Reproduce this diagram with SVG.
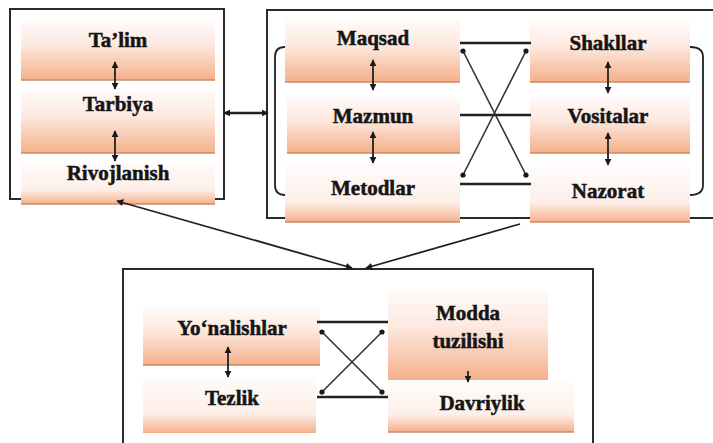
<svg xmlns="http://www.w3.org/2000/svg" width="713" height="443" viewBox="0 0 713 443">
<defs>
<linearGradient id="gA" x1="0" y1="0" x2="0" y2="1">
<stop offset="0" stop-color="#fffafa"/>
<stop offset="0.4" stop-color="#fde9e0"/>
<stop offset="1" stop-color="#f5b08a"/>
</linearGradient>
<linearGradient id="gB" x1="0" y1="0" x2="0" y2="1">
<stop offset="0" stop-color="#fffbfa"/>
<stop offset="0.65" stop-color="#fdefe8"/>
<stop offset="1" stop-color="#f5b08a"/>
</linearGradient>
<marker id="ah" viewBox="0 0 10 10" refX="9" refY="5" markerWidth="7" markerHeight="7" markerUnits="userSpaceOnUse" orient="auto-start-reverse">
<path d="M0,0 L10,5 L0,10 z" fill="#1a1a1a"/>
</marker>
<style>
.box{stroke:none}
.edge{stroke:#c88a66;stroke-width:1.5}
.t{font-family:"Liberation Serif","Times New Roman",serif;font-weight:bold;font-size:21px;fill:#151515;stroke:#151515;stroke-width:0.5;text-anchor:middle}
.frame{fill:none;stroke:#2a2a2e;stroke-width:2}
.ln{stroke:#222;stroke-width:2.5;fill:none}
.dg{stroke:#333;stroke-width:1.6;fill:none}
.ar{stroke:#222;stroke-width:1.8;fill:none}
.dot{fill:#1a1a1a}
</style>
</defs>
<rect width="713" height="443" fill="#ffffff"/>

<g id="frames">
<rect class="frame" x="10" y="9" width="214" height="190"/>
<rect class="frame" x="267" y="10" width="460" height="208"/>
<rect class="frame" x="123" y="269" width="470" height="200"/>
<path class="ar" d="M285,47 Q275,47 275,57 L275,185 Q275,195 285,195" stroke-width="1.5"/>
<path class="ar" d="M690,47 Q703,47 703,57 L703,185 Q703,195 690,195" stroke-width="1.5"/>
</g>

<g id="n-talim"><rect class="box" x="21" y="21" width="194" height="59" fill="url(#gA)"/><line class="edge" x1="21" y1="80" x2="215" y2="80"/><text class="t" x="118" y="47">Ta’lim</text></g>
<g id="n-tarbiya"><rect class="box" x="21" y="91" width="194" height="62" fill="url(#gA)"/><line class="edge" x1="21" y1="153" x2="215" y2="153"/><text class="t" x="118" y="111">Tarbiya</text></g>
<g id="n-rivojlanish"><rect class="box" x="21" y="163" width="194" height="41" fill="url(#gB)"/><line class="edge" x1="21" y1="204" x2="215" y2="204"/><text class="t" x="118" y="180">Rivojlanish</text></g>

<g id="n-maqsad"><rect class="box" x="285" y="20" width="175" height="62" fill="url(#gA)"/><line class="edge" x1="285" y1="82" x2="460" y2="82"/><text class="t" x="373" y="45">Maqsad</text></g>
<g id="n-mazmun"><rect class="box" x="287" y="97" width="173" height="56" fill="url(#gA)"/><line class="edge" x1="287" y1="153" x2="460" y2="153"/><text class="t" x="373" y="123">Mazmun</text></g>
<g id="n-metodlar"><rect class="box" x="285" y="165" width="175" height="57" fill="url(#gB)"/><line class="edge" x1="285" y1="222" x2="460" y2="222"/><text class="t" x="373" y="195">Metodlar</text></g>
<g id="n-shakllar"><rect class="box" x="530" y="22" width="160" height="60" fill="url(#gA)"/><line class="edge" x1="530" y1="82" x2="690" y2="82"/><text class="t" x="608" y="50">Shakllar</text></g>
<g id="n-vositalar"><rect class="box" x="530" y="97" width="160" height="56" fill="url(#gA)"/><line class="edge" x1="530" y1="153" x2="690" y2="153"/><text class="t" x="608" y="123">Vositalar</text></g>
<g id="n-nazorat"><rect class="box" x="530" y="167" width="160" height="55" fill="url(#gB)"/><line class="edge" x1="530" y1="222" x2="690" y2="222"/><text class="t" x="608" y="198">Nazorat</text></g>

<g id="n-yonalishlar"><rect class="box" x="143" y="307" width="177" height="58" fill="url(#gA)"/><line class="edge" x1="143" y1="365" x2="320" y2="365"/><text class="t" x="232" y="335">Yo‘nalishlar</text></g>
<g id="n-tezlik"><rect class="box" x="143" y="378" width="173" height="55" fill="url(#gB)"/><text class="t" x="232" y="405">Tezlik</text></g>
<g id="n-modda"><rect class="box" x="388" y="290" width="160" height="90" fill="url(#gA)"/><text class="t" x="468" y="320">Modda</text><text class="t" x="468" y="348">tuzilishi</text></g>
<g id="n-davriylik"><rect class="box" x="388" y="382" width="186" height="50" fill="url(#gB)"/><line class="edge" x1="388" y1="432" x2="574" y2="432"/><text class="t" x="482" y="410">Davriylik</text></g>

<g id="connectors">
<line class="ar" x1="115" y1="62" x2="115" y2="89" marker-start="url(#ah)" marker-end="url(#ah)"/>
<line class="ar" x1="115" y1="131" x2="115" y2="161" marker-start="url(#ah)" marker-end="url(#ah)"/>
<line class="ar" x1="373" y1="60" x2="373" y2="90" marker-start="url(#ah)" marker-end="url(#ah)"/>
<line class="ar" x1="373" y1="132" x2="373" y2="163" marker-start="url(#ah)" marker-end="url(#ah)"/>
<line class="ar" x1="608" y1="62" x2="608" y2="93" marker-start="url(#ah)" marker-end="url(#ah)"/>
<line class="ar" x1="608" y1="133" x2="608" y2="165" marker-start="url(#ah)" marker-end="url(#ah)"/>
<line class="ar" x1="228" y1="347" x2="228" y2="377" marker-start="url(#ah)" marker-end="url(#ah)"/>
<line class="ar" x1="468" y1="371" x2="468" y2="382" marker-end="url(#ah)"/>

<line class="ln" x1="224" y1="113" x2="268" y2="113" marker-start="url(#ah)" marker-end="url(#ah)"/>

<line class="ln" x1="460" y1="43" x2="531" y2="43"/>
<line class="ln" x1="460" y1="115" x2="531" y2="115"/>
<line class="ln" x1="460" y1="184" x2="531" y2="184"/>
<line class="dg" x1="463" y1="51" x2="526" y2="175"/>
<line class="dg" x1="526" y1="51" x2="463" y2="175"/>
<circle class="dot" cx="463" cy="51" r="2.6"/><circle class="dot" cx="526" cy="51" r="2.6"/>
<circle class="dot" cx="463" cy="175" r="2.6"/><circle class="dot" cx="526" cy="175" r="2.6"/>

<line class="ar" x1="117" y1="201" x2="352" y2="268" stroke-width="2" marker-start="url(#ah)" marker-end="url(#ah)"/>
<line class="ar" x1="520" y1="224" x2="366" y2="268" stroke-width="2" marker-end="url(#ah)"/>

<line class="ln" x1="317" y1="322" x2="388" y2="322"/>
<line class="ln" x1="317" y1="397" x2="388" y2="397"/>
<line class="dg" x1="322" y1="332" x2="382" y2="392"/>
<line class="dg" x1="382" y1="332" x2="322" y2="392"/>
<circle class="dot" cx="322" cy="332" r="2.6"/><circle class="dot" cx="382" cy="332" r="2.6"/>
<circle class="dot" cx="322" cy="392" r="2.6"/><circle class="dot" cx="382" cy="392" r="2.6"/>
</g>
</svg>
